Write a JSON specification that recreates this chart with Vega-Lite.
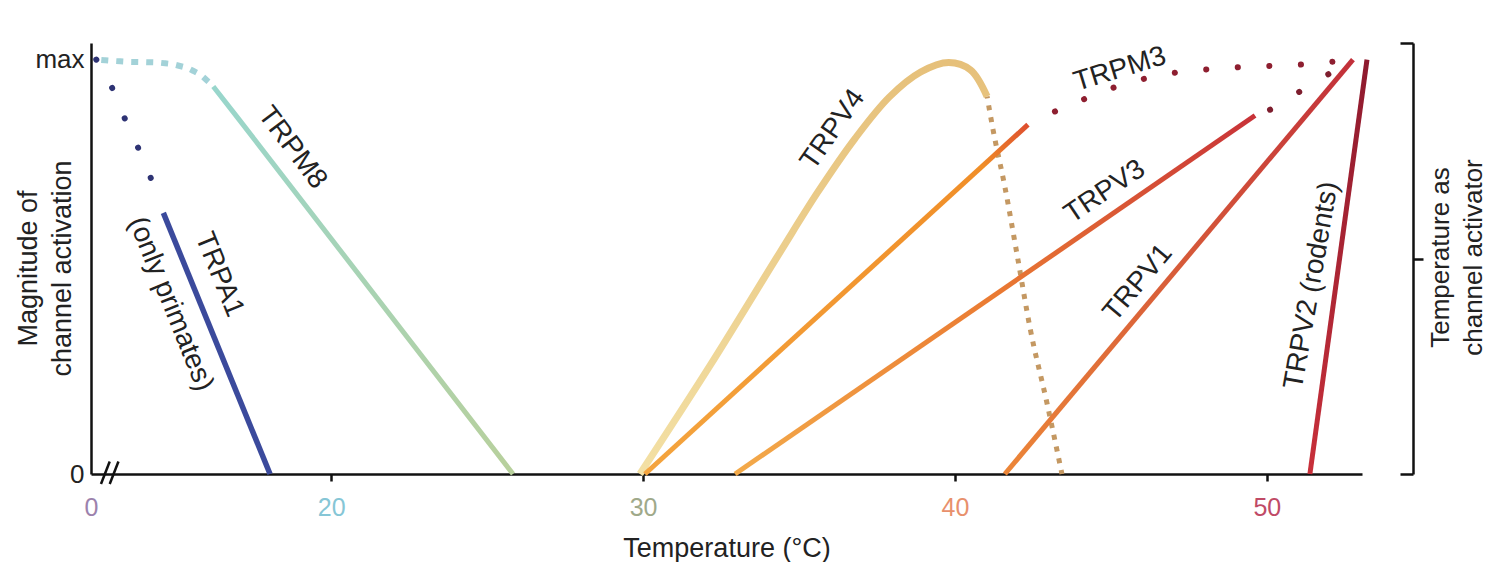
{
  "$schema": "https://vega.github.io/schema/vega-lite/v6.json",
  "width": 1271,
  "height": 431,
  "autosize": {"type": "none"},
  "padding": {"left": 91, "top": 43, "right": 128, "bottom": 88},
  "background": "white",
  "config": {"view": {"stroke": null}, "axis": {"grid": false}, "font": "Liberation Sans"},
  "datasets": {
    "pts": [
      {"id": "A1d", "t": 12.47, "m": 1.0},
      {"id": "A1d", "t": 13.08, "m": 0.915},
      {"id": "A1d", "t": 13.49, "m": 0.838},
      {"id": "A1d", "t": 13.94, "m": 0.766},
      {"id": "A1d", "t": 14.36, "m": 0.686},
      {"id": "A1", "t": 14.62, "m": 0.63},
      {"id": "A1", "t": 18.04, "m": 0.0},
      {"id": "M8d", "t": 12.47, "m": 1.0},
      {"id": "M8d", "t": 13.4, "m": 0.995},
      {"id": "M8d", "t": 14.36, "m": 0.993},
      {"id": "M8d", "t": 15.42, "m": 0.978},
      {"id": "M8d", "t": 15.87, "m": 0.959},
      {"id": "M8d", "t": 16.22, "m": 0.935},
      {"id": "M8", "t": 16.22, "m": 0.935},
      {"id": "M8", "t": 17.0, "m": 0.86},
      {"id": "M8", "t": 25.83, "m": 0.0},
      {"id": "V4", "t": 29.9, "m": 0.0},
      {"id": "V4", "t": 32.15, "m": 0.262},
      {"id": "V4", "t": 34.39, "m": 0.535},
      {"id": "V4", "t": 35.6, "m": 0.68},
      {"id": "V4", "t": 36.8, "m": 0.81},
      {"id": "V4", "t": 37.9, "m": 0.91},
      {"id": "V4", "t": 38.9, "m": 0.97},
      {"id": "V4", "t": 39.8, "m": 0.993},
      {"id": "V4", "t": 40.5, "m": 0.975},
      {"id": "V4", "t": 41.03, "m": 0.911},
      {"id": "V4d", "t": 41.03, "m": 0.911},
      {"id": "V4d", "t": 41.22, "m": 0.831},
      {"id": "V4d", "t": 41.6, "m": 0.693},
      {"id": "V4d", "t": 42.02, "m": 0.517},
      {"id": "V4d", "t": 42.4, "m": 0.355},
      {"id": "V4d", "t": 42.95, "m": 0.171},
      {"id": "V4d", "t": 43.43, "m": 0.0},
      {"id": "M3", "t": 30.06, "m": 0.0},
      {"id": "M3", "t": 42.34, "m": 0.843},
      {"id": "M3d", "t": 42.34, "m": 0.843},
      {"id": "M3d", "t": 43.27, "m": 0.877},
      {"id": "M3d", "t": 44.26, "m": 0.908},
      {"id": "M3d", "t": 45.19, "m": 0.935},
      {"id": "M3d", "t": 46.25, "m": 0.957},
      {"id": "M3d", "t": 47.31, "m": 0.971},
      {"id": "M3d", "t": 48.4, "m": 0.978},
      {"id": "M3d", "t": 49.46, "m": 0.983},
      {"id": "M3d", "t": 50.51, "m": 0.986},
      {"id": "M3d", "t": 51.47, "m": 0.99},
      {"id": "M3d", "t": 52.66, "m": 1.0},
      {"id": "V3", "t": 32.95, "m": 0.0},
      {"id": "V3", "t": 49.62, "m": 0.865},
      {"id": "V3d", "t": 49.62, "m": 0.865},
      {"id": "V3d", "t": 50.1, "m": 0.879},
      {"id": "V3d", "t": 51.06, "m": 0.923},
      {"id": "V3d", "t": 51.96, "m": 0.964},
      {"id": "V3d", "t": 52.66, "m": 1.0},
      {"id": "V1", "t": 41.6, "m": 0.0},
      {"id": "V1", "t": 52.76, "m": 1.0},
      {"id": "V2", "t": 51.38, "m": 0.0},
      {"id": "V2", "t": 53.21, "m": 1.0}
    ],
    "labels": [
      {"label": "TRPA1", "t": 16.41, "m": 0.481, "a": 68},
      {"label": "(only primates)", "t": 14.85, "m": 0.41, "a": 68},
      {"label": "TRPM8", "t": 18.75, "m": 0.787, "a": 53},
      {"label": "TRPV4", "t": 36.09, "m": 0.831, "a": -55},
      {"label": "TRPM3", "t": 45.29, "m": 0.976, "a": -17},
      {"label": "TRPV3", "t": 44.81, "m": 0.681, "a": -34},
      {"label": "TRPV1", "t": 45.87, "m": 0.461, "a": -50},
      {"label": "TRPV2 (rodents)", "t": 51.44, "m": 0.455, "a": -80}
    ],
    "breaks": [
      {"t": 12.62, "t2": 12.9, "m": -0.024, "m2": 0.03},
      {"t": 12.9, "t2": 13.18, "m": -0.024, "m2": 0.03}
    ]
  },
  "resolve": {"axis": {"y": "independent"}},
  "encoding": {
    "x": {
      "field": "t", "type": "quantitative",
      "scale": {"domain": [12.3, 53.05], "nice": false, "zero": false},
      "axis": {
        "orient": "bottom",
        "values": [12.3, 20, 30, 40, 50],
        "labelExpr": "datum.value < 15 ? '0' : datum.label",
        "title": "Temperature (°C)",
        "titleFont": "Liberation Sans", "titleFontSize": 27, "titleFontWeight": "normal", "titleColor": "#222",
        "titlePadding": 15,
        "labelFont": "Liberation Sans", "labelFontSize": 25,
        "labelColor": {"expr": "datum.value < 15 ? '#9c82ad' : datum.value == 20 ? '#86c6d6' : datum.value == 30 ? '#9fa98a' : datum.value == 40 ? '#e8906c' : '#c04a66'"},
        "labelFlush": false, "labelPadding": 14,
        "tickColor": {"expr": "datum.value < 15 ? 'rgba(0,0,0,0)' : '#111'"},
        "tickWidth": 2.5, "tickSize": 7,
        "domainColor": "#111", "domainWidth": 2.5
      }
    },
    "y": {
      "field": "m", "type": "quantitative",
      "scale": {"domain": [0, 1.04], "nice": false},
      "axis": null
    }
  },
  "layer": [
    {
      "data": {"name": "pts"},
      "transform": [{"filter": "datum.id == 'A1'"}],
      "mark": {"type": "line", "stroke": "#3b4a9c", "strokeWidth": 5.5, "strokeCap": "butt"},
      "encoding": {
        "y": {
          "field": "m", "type": "quantitative",
          "scale": {"domain": [0, 1.04], "nice": false},
          "axis": {
            "values": [0, 1],
            "labelExpr": "datum.value > 0.5 ? 'max' : '0'",
            "ticks": false, "labelPadding": 7,
            "labelFont": "Liberation Sans", "labelFontSize": 26, "labelColor": "#222",
            "domainColor": "#111", "domainWidth": 2.5,
            "title": ["Magnitude of", "channel activation"],
            "titleFont": "Liberation Sans", "titleFontSize": 27, "titleFontWeight": "normal", "titleColor": "#222",
            "titleX": -63, "titleY": 225, "titleAngle": 270, "titleAlign": "center", "titleBaseline": "middle", "titleLineHeight": 34
          }
        }
      }
    },
    {
      "data": {"name": "pts"},
      "transform": [{"filter": "datum.id == 'A1d'"}],
      "mark": {"type": "line", "stroke": "#2e3374", "strokeWidth": 6, "strokeCap": "round", "strokeDash": [0.1, 32.5], "interpolate": "monotone"}
    },
    {
      "data": {"name": "pts"},
      "transform": [{"filter": "datum.id == 'M8d'"}],
      "mark": {"type": "line", "stroke": "#a3d2d8", "strokeWidth": 6, "strokeCap": "square", "strokeDash": [1, 14], "strokeDashOffset": 7, "interpolate": "monotone"}
    },
    {
      "data": {"name": "pts"},
      "transform": [{"filter": "datum.id == 'M8'"}],
      "mark": {"type": "line", "strokeWidth": 5, "strokeCap": "butt", "interpolate": "monotone",
        "stroke": {"gradient": "linear", "x1": 0, "y1": 0, "x2": 0, "y2": 1, "stops": [{"offset": 0, "color": "#98d6cc"}, {"offset": 1, "color": "#b8d09c"}]}}
    },
    {
      "data": {"name": "pts"},
      "transform": [{"filter": "datum.id == 'V4d'"}],
      "mark": {"type": "line", "stroke": "#c49862", "strokeWidth": 5, "strokeCap": "butt", "strokeDash": [5, 7], "strokeDashOffset": 3, "interpolate": "monotone"}
    },
    {
      "data": {"name": "pts"},
      "transform": [{"filter": "datum.id == 'V4'"}],
      "mark": {"type": "line", "strokeWidth": 7, "strokeCap": "butt", "interpolate": "catmull-rom",
        "stroke": {"gradient": "linear", "x1": 0, "y1": 1, "x2": 0, "y2": 0, "stops": [{"offset": 0, "color": "#f3e0a4"}, {"offset": 1, "color": "#e6c07a"}]}}
    },
    {
      "data": {"name": "pts"},
      "transform": [{"filter": "datum.id == 'M3d'"}],
      "mark": {"type": "line", "stroke": "#8e1f30", "strokeWidth": 6, "strokeCap": "round", "strokeDash": [0.1, 31.5], "strokeDashOffset": 1.6, "interpolate": "monotone"}
    },
    {
      "data": {"name": "pts"},
      "transform": [{"filter": "datum.id == 'V3d'"}],
      "mark": {"type": "line", "stroke": "#7e1e2e", "strokeWidth": 6, "strokeCap": "round", "strokeDash": [0.1, 34], "strokeDashOffset": 18, "interpolate": "monotone"}
    },
    {
      "data": {"name": "pts"},
      "transform": [{"filter": "datum.id == 'M3'"}],
      "mark": {"type": "line", "strokeWidth": 5, "strokeCap": "butt",
        "stroke": {"gradient": "linear", "x1": 0, "y1": 1, "x2": 1, "y2": 0, "stops": [{"offset": 0, "color": "#f4a43e"}, {"offset": 0.88, "color": "#f08e28"}, {"offset": 1, "color": "#de4e2e"}]}}
    },
    {
      "data": {"name": "pts"},
      "transform": [{"filter": "datum.id == 'V3'"}],
      "mark": {"type": "line", "strokeWidth": 5, "strokeCap": "butt",
        "stroke": {"gradient": "linear", "x1": 0, "y1": 1, "x2": 1, "y2": 0, "stops": [{"offset": 0, "color": "#f3aa4a"}, {"offset": 0.5, "color": "#ea7a32"}, {"offset": 1, "color": "#c83238"}]}}
    },
    {
      "data": {"name": "pts"},
      "transform": [{"filter": "datum.id == 'V1'"}],
      "mark": {"type": "line", "strokeWidth": 5, "strokeCap": "butt",
        "stroke": {"gradient": "linear", "x1": 0, "y1": 1, "x2": 1, "y2": 0, "stops": [{"offset": 0, "color": "#ec8638"}, {"offset": 1, "color": "#c2303a"}]}},
      "encoding": {
        "y": {
          "field": "m", "type": "quantitative",
          "axis": {"orient": "right", "offset": 38, "values": [0, 1.04], "labels": false, "domain": false,
            "tickSize": 13, "tickWidth": 2.5, "tickColor": "#111", "title": null}
        }
      }
    },
    {
      "data": {"name": "pts"},
      "transform": [{"filter": "datum.id == 'V2'"}],
      "mark": {"type": "line", "strokeWidth": 5, "strokeCap": "butt",
        "stroke": {"gradient": "linear", "x1": 0, "y1": 1, "x2": 0, "y2": 0, "stops": [{"offset": 0, "color": "#c8303a"}, {"offset": 1, "color": "#8e1a2e"}]}},
      "encoding": {
        "y": {
          "field": "m", "type": "quantitative",
          "axis": {"orient": "right", "offset": 51, "values": [0.52], "labels": false,
            "tickSize": 10, "tickWidth": 2.5, "tickColor": "#111", "domainColor": "#111", "domainWidth": 2.5,
            "title": ["Temperature as", "channel activator"],
            "titleFont": "Liberation Sans", "titleFontSize": 26, "titleFontWeight": "normal", "titleColor": "#222",
            "titleAngle": 270, "titleX": 27, "titleY": 214, "titleAlign": "center", "titleBaseline": "middle", "titleLineHeight": 33}
        }
      }
    },
    {
      "data": {"name": "breaks"},
      "mark": {"type": "rule", "stroke": "#111", "strokeWidth": 2.5},
      "encoding": {
        "x2": {"field": "t2"},
        "y2": {"field": "m2"}
      }
    },
    {
      "data": {"name": "labels"},
      "mark": {"type": "text", "font": "Liberation Sans", "fontSize": 28, "color": "#222", "align": "center", "baseline": "middle"},
      "encoding": {
        "text": {"field": "label"},
        "angle": {"field": "a", "type": "quantitative", "scale": null}
      }
    }
  ]
}
